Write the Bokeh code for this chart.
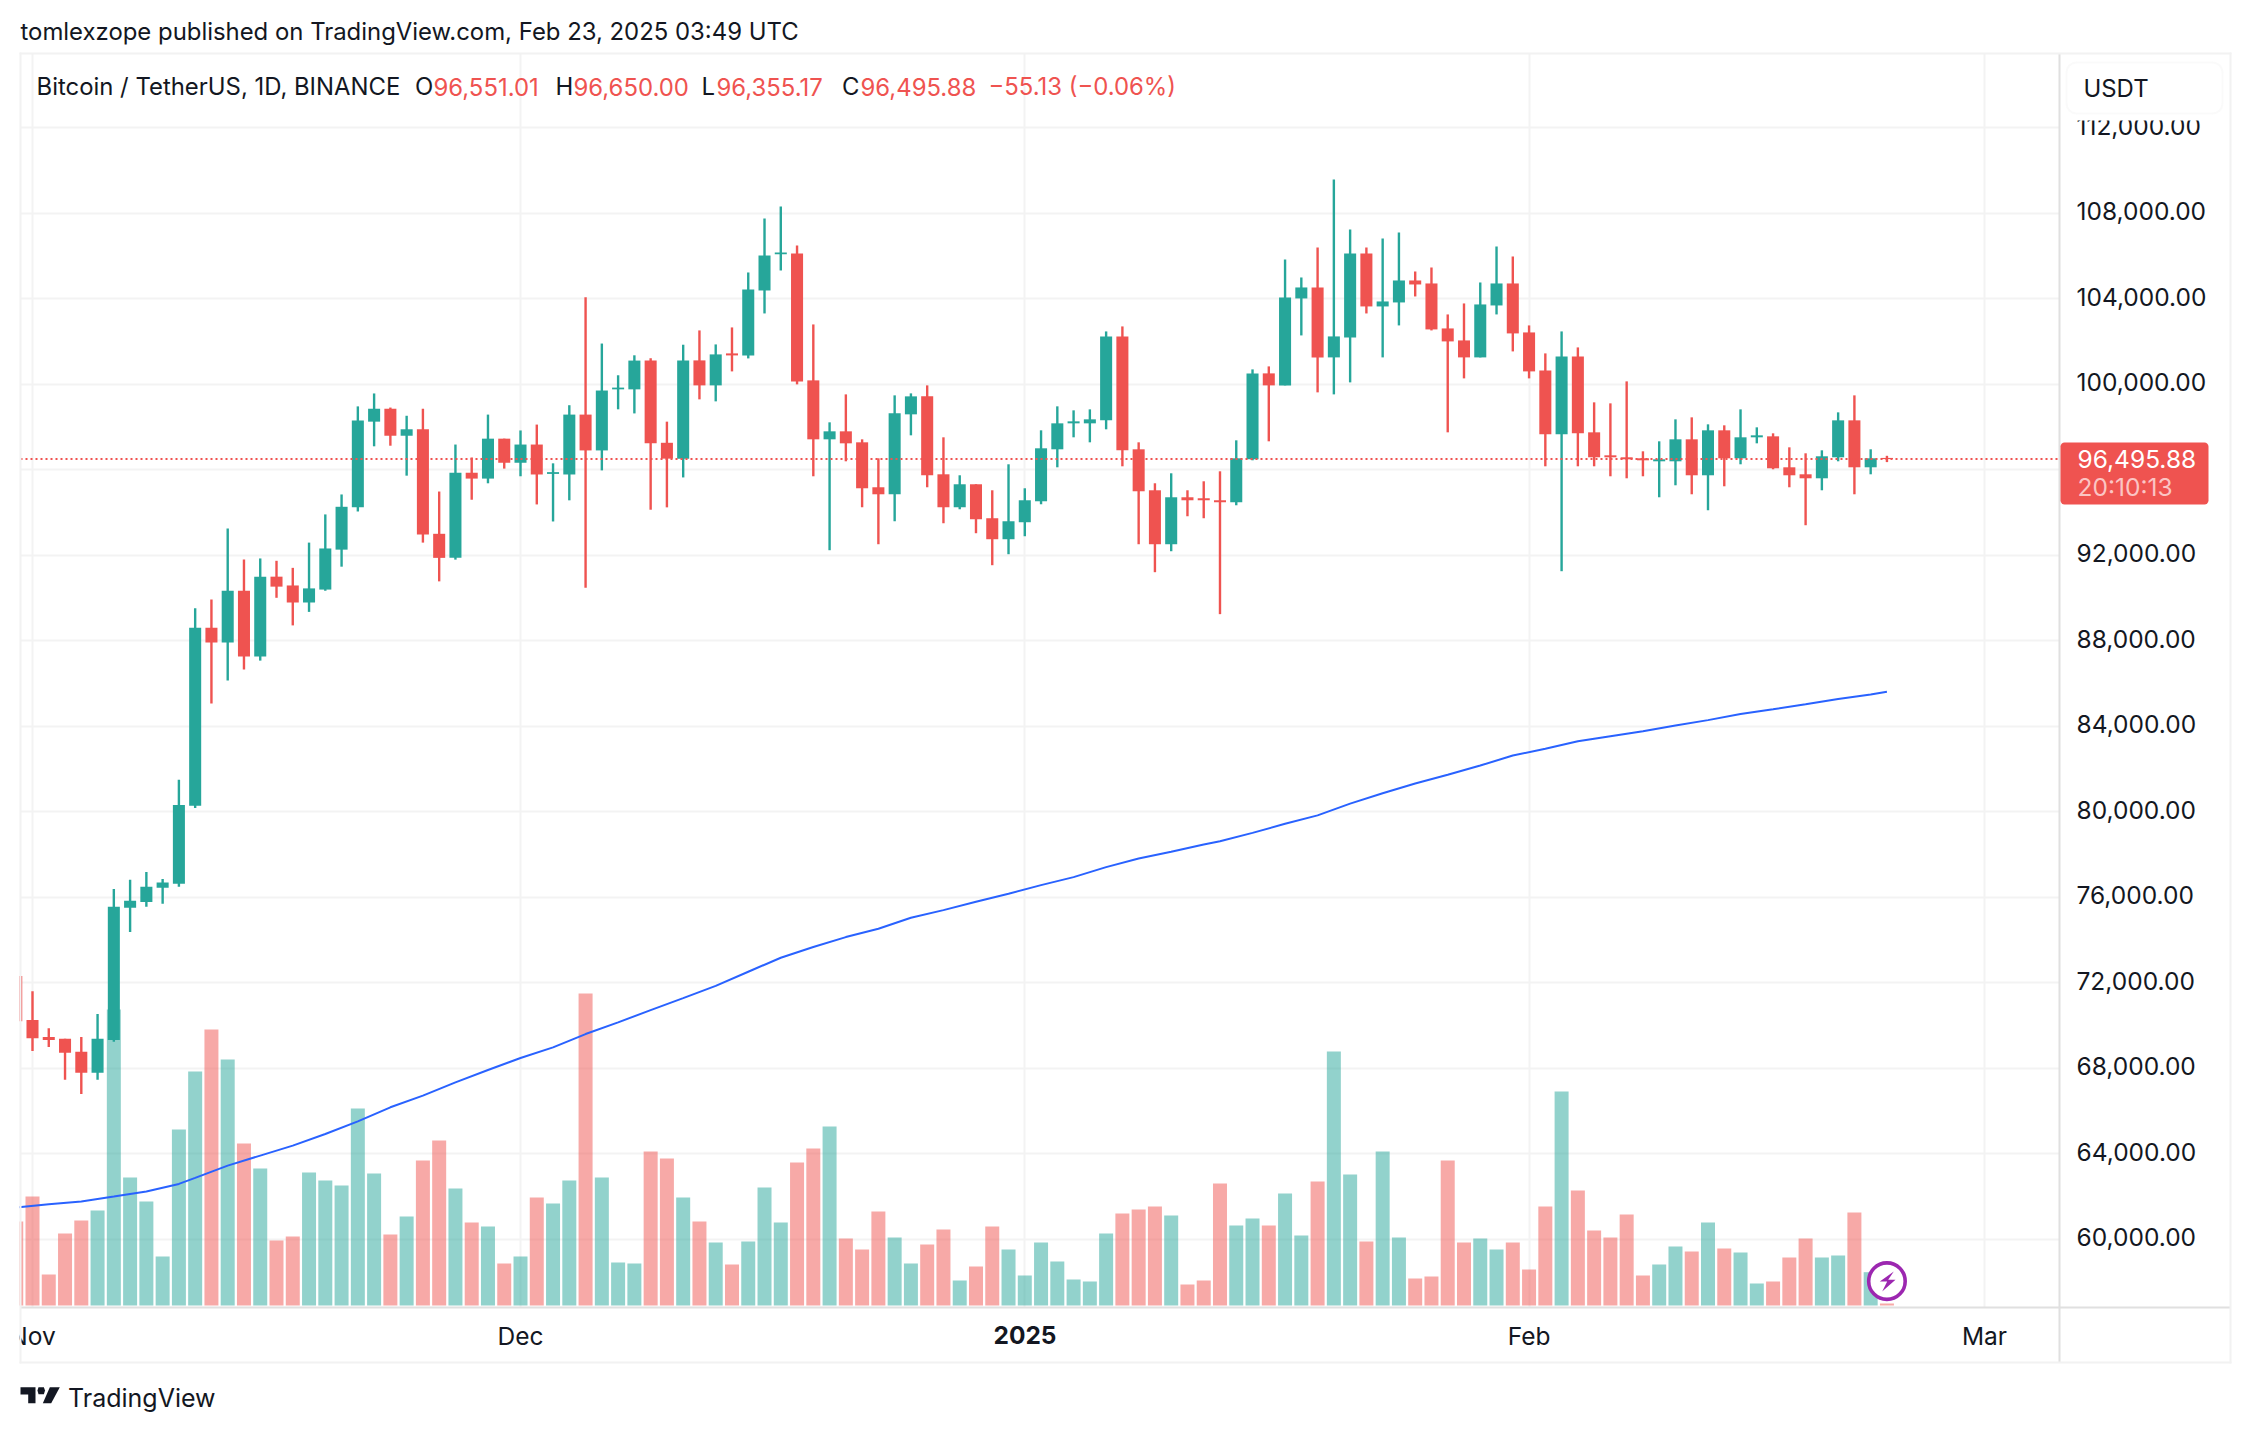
import math
from bokeh.plotting import figure
from bokeh.embed import file_html
from bokeh.resources import INLINE
from bokeh.models import (FixedTicker, NumeralTickFormatter, Range1d, Label, PolyAnnotation, ColumnDataSource)

# Days counted from 1 Nov 2024; index 0 of the candle lists is 31 Oct 2024
first_day = -1
opens = [72316,70256,69460,69377,68773,67784,69322,75503,75778,76437,76629,80283,88606,87919,90337,87260,90996,90584,89787,90392,92260,94238,98248,98852,97589,97891,93001,91875,95858,95584,97452,
 96325,97177,95803,95776,98578,96902,99759,99759,101105,97259,96518,101114,99945,101441,101347,104385,106084,106115,100179,97421,97795,97281,95178,94850,98590,99431,95785,94243,95318,93729,92747,
 93542,94523,96954,98169,98169,98309,102235,96954,95037,92513,94710,94664,94570,94477,96486,100506,99945,104012,104526,101254,102189,106115,103638,103825,104853,104713,102609,102048,101254,103684,104713,
 102422,100646,97655,101301,97748,96673,96580,96533,96393,96393,97421,95739,97842,96533,97515,97561,96112,95785,95598,96580,98309,96112,96551.01]
highs = [72700,71602,69872,69377,69460,70531,76382,76822,77179,76849,81491,89513,89925,93249,91793,91848,91738,91408,92589,93908,94842,98962,99567,98907,98523,98852,94979,97177,96572,98578,97452,
 97836,98111,96298,99017,104072,101902,100418,101352,101215,98248,101847,102516,101861,102656,105227,107751,108312,106489,102796,98216,99524,97421,96533,99478,99571,99945,97515,95739,95318,95037,96253,
 95131,97842,98964,98777,98823,102469,102703,97281,95365,95832,95037,95458,95925,97374,100693,100833,105834,104993,106395,109574,107237,106395,106816,107096,105273,105460,103264,103778,104759,106442,105975,
 102750,101441,102469,101721,99151,99104,100132,96860,97328,98356,98449,98122,98076,98823,97982,97702,97047,96767,96907,98683,99478,96954,96650.00]
lows = [69685,68800,68993,67454,66795,67454,69240,74377,75558,75695,76492,80173,85063,86134,86656,87068,90007,88716,89348,90337,91463,94045,97094,97122,95721,92589,90776,91793,94595,95364,96051,
 95693,94375,93578,94567,90474,95968,98825,98633,94128,94238,95638,99291,99197,100599,101207,103310,105320,99992,95692,92233,96393,94243,92513,93588,97608,95178,93495,94149,93028,91532,92046,
 92887,94383,96112,97515,97281,97889,96159,92513,91205,92186,93822,93729,89242,94336,96440,97328,99945,102282,99618,99524,100085,103310,101254,102750,104105,102516,97748,100272,101254,103264,101534,
 100272,96159,91251,96159,96159,95692,95598,95692,94710,95271,94850,94103,95224,96253,97234,96019,95178,93402,95037,96393,94850,95785,96355.17]
closes = [70201,69405,69322,68718,67784,69377,75558,75833,76492,76684,80310,88606,87919,90337,87260,90996,90529,89787,90447,92315,94265,98303,98852,97589,97891,92974,91875,95858,95584,97452,96325,
 97177,95776,95886,98578,96902,99704,99841,101105,97232,96518,101105,99945,101394,101347,104432,106021,106162,100132,97421,97795,97234,95131,94850,98636,99431,95739,94243,95318,93682,92747,93588,
 94570,97001,98169,98262,98356,102235,96907,94991,92513,94710,94570,94570,94477,96533,100506,99945,104058,104526,101254,102235,106115,103638,103871,104853,104666,102563,102002,101254,103731,104713,102376,
 100599,97655,101301,97702,96580,96580,96486,96440,96486,97421,95739,97842,96533,97515,97608,96066,95739,95598,96627,98309,96112,96533,96495.88]
volumes = [25.2,32.7,9.3,21.6,25.5,28.5,88.8,38.4,31.2,14.7,52.8,70.2,82.8,73.8,48.6,41.1,19.5,20.7,39.9,37.5,36.0,59.1,39.6,21.3,26.7,43.5,49.5,35.1,24.9,23.7,12.6,
 14.7,32.4,30.6,37.5,93.6,38.4,12.9,12.6,46.2,44.1,32.4,25.2,18.9,12.3,19.2,35.4,24.9,42.9,47.1,53.7,20.1,16.8,28.2,20.4,12.6,18.3,22.8,7.5,11.7,23.7,16.8,
 9.0,18.9,13.2,7.8,7.2,21.6,27.6,28.8,29.7,27.0,6.3,7.5,36.6,24.0,26.1,24.0,33.6,21.0,37.2,76.2,39.3,19.2,46.2,20.4,8.1,8.7,43.5,18.9,20.1,16.8,18.9,
 10.8,29.7,64.2,34.5,22.5,20.4,27.3,9.0,12.3,17.7,16.2,24.9,17.1,15.9,6.6,7.2,14.4,20.1,14.4,15.0,27.9,10.0,0.6]
ma_days = [-1,1,3,5,7,9,10,12,14,16,18,20,22,24,26,28,30,32,34,36,38,40,42,44,46,48,50,52,54,56,58,60,62,64,66,68,70,72,73,75,77,79,81,83,85,87,89,91,93,95,97,99,101,103,105,107,109,111,113,114]
ma_values = [61480,61636,61761,61994,62228,62586,62867,63443,63911,64378,64923,65515,66170,66715,67338,67915,68476,68974,69597,70143,70719,71280,71850,72514,73169,73667,74134,74524,75038,75396,75786,76160,76565,76939,77406,77811,78123,78466,78614,79008,79433,79827,80378,80866,81323,81732,82158,82630,82945,83292,83528,83764,84032,84284,84568,84788,85024,85276,85481,85607]
price_ticks = [60000,64000,68000,72000,76000,80000,84000,88000,92000,96000,100000,104000,108000,112000]
time_ticks = [0,30,61,92,120]
time_labels = ["Nov","Dec","2025","Feb","Mar"]
last_price = 96495.88
header_values = ["96,551.01","96,650.00","96,355.17","96,495.88"]

GREEN, RED, INK = "#26a69a", "#ef5350", "#131722"
GRID, BORDER, AXIS = "#f3f3f3", "#f2f2f2", "#e0e0e0"
FONT = "Inter"

days = list(range(first_day, first_day + len(opens)))
is_up = [c >= o for o, c in zip(opens, closes)]
cols = [GREEN if u else RED for u in is_up]
src = ColumnDataSource(dict(day=days, o=opens, h=highs, l=lows, c=closes, v=volumes, col=cols,
                            top=[max(a, b) for a, b in zip(opens, closes)],
                            bot=[min(a, b) for a, b in zip(opens, closes)],
                            zero=[0] * len(days)))

# The frame fills the whole canvas so that panel decorations outside the plot area can be drawn.
W, H = 2234, 1416
DAY_PX = 16.267           # pixels per day
PRICE_PX = 0.021375       # pixels per USD
X0, Y108 = 32.0, 212.7    # pixel of 1 Nov, pixel of 108,000
VOL_PX = 1 / 0.3          # pixels per volume unit
VOL0 = 1305.0             # pixel of zero volume
PANE_L, PANE_R, PANE_T, PANE_B = 20, 2059, 53, 1307
LABEL_LIFT = 2            # price labels sit this many pixels above their grid lines


def day_at(px):
    return (px - X0) / DAY_PX


def price_at(py):
    return 108000 - (py - Y108) / PRICE_PX


p = figure(width=W, height=H, output_backend="svg", toolbar_location=None,
           x_range=Range1d(day_at(0), day_at(W)), y_range=Range1d(price_at(H), price_at(0)),
           x_axis_location="below", y_axis_location="right",
           min_border_left=0, min_border_top=0, min_border_right=0, min_border_bottom=0,
           background_fill_color="white", border_fill_color="white")
p.extra_y_ranges = {"volume": Range1d((VOL0 - H) / VOL_PX, VOL0 / VOL_PX),
                    "labels": Range1d(price_at(H + LABEL_LIFT), price_at(LABEL_LIFT))}
p.outline_line_color = None

p.xgrid.ticker = FixedTicker(ticks=time_ticks)
p.ygrid.ticker = FixedTicker(ticks=price_ticks)
p.xgrid.cross_bounds = (price_at(PANE_B), price_at(PANE_T))
p.ygrid.cross_bounds = (day_at(PANE_L), day_at(PANE_R))
for g in (p.xgrid, p.ygrid):
    g.grid_line_color = GRID
    g.grid_line_width = 2

ya = p.yaxis[0]
ya.y_range_name = "labels"
ya.fixed_location = day_at(PANE_R)
ya.bounds = (price_at(1362 + LABEL_LIFT), price_at(PANE_T + LABEL_LIFT))
ya.ticker = FixedTicker(ticks=price_ticks)
ya.formatter = NumeralTickFormatter(format="0,0.00")
ya.major_tick_line_color = None
ya.minor_tick_line_color = None
ya.axis_line_color = AXIS
ya.axis_line_width = 2
ya.major_label_standoff = 11
ya.major_label_text_font = FONT
ya.major_label_text_font_size = "24.5px"
ya.major_label_text_color = INK

xa = p.xaxis[0]
xa.fixed_location = price_at(PANE_B)
xa.bounds = (day_at(PANE_L), day_at(2230))
xa.ticker = FixedTicker(ticks=time_ticks)
xa.major_label_overrides = {t: ("" if s == "2025" else s) for t, s in zip(time_ticks, time_labels)}
xa.major_tick_line_color = None
xa.minor_tick_line_color = None
xa.axis_line_color = AXIS
xa.axis_line_width = 2
xa.major_label_standoff = 7
xa.major_label_text_font = FONT
xa.major_label_text_font_size = "24.5px"
xa.major_label_text_color = INK

# Volume underneath
p.vbar(x="day", width=0.86, bottom="zero", top="v", source=src, y_range_name="volume",
       fill_color="col", fill_alpha=0.5, line_color=None)
# Moving average
p.line(ma_days, ma_values, line_color="#2962ff", line_width=2)
# Candles
p.segment(x0="day", x1="day", y0="l", y1="h", source=src, line_color="col", line_width=2.4)
p.vbar(x="day", width=0.74, bottom="bot", top="top", source=src, fill_color="col", line_color=None)

# Last-price line across the pane
p.segment(x0=[day_at(PANE_L)], x1=[day_at(PANE_R)], y0=[last_price], y1=[last_price],
          line_color=RED, line_width=2, line_dash="2 3")

# Alert icon on the last bar
p.scatter([days[-1]], [7.3], y_range_name="volume", marker="circle", size=36.5,
          fill_color="white", line_color="#9c27b0", line_width=3.6)


def T(x, y, text, color=INK, size="23.9px", style="normal", align="left", **kw):
    p.add_layout(Label(x=x, y=y, x_units="canvas", y_units="canvas", text=text, text_color=color,
                       text_font=FONT, text_font_size=size, text_font_style=style, text_align=align,
                       text_baseline="middle", **kw))


def POLY(pts, color, line=None):
    p.add_layout(PolyAnnotation(xs=[a for a, _ in pts], ys=[b for _, b in pts],
                                xs_units="canvas", ys_units="canvas",
                                fill_color=color, fill_alpha=1, line_color=line, line_width=2, level="overlay"))


def RECT(x0, y0, x1, y1, color):
    POLY([(x0, y0), (x1, y0), (x1, y1), (x0, y1)], color)


def ROUND(x0, y0, x1, y1, r, color, line=None):
    pts = []
    for cx, cy, start in ((x1 - r, y0 + r, -90), (x1 - r, y1 - r, 0), (x0 + r, y1 - r, 90), (x0 + r, y0 + r, 180)):
        for k in range(5):
            a = math.radians(start + k * 22.5)
            pts.append((cx + r * math.cos(a), cy + r * math.sin(a)))
    POLY(pts, color, line)


# bolt
POLY([(1893.3, 1271), (1879.3, 1281), (1886.7, 1281), (1881.7, 1291), (1895, 1279.3), (1887.7, 1279.3)], "#9c27b0")

# left of the pane: nothing shows
RECT(0, 54, 19, 1363, "white")

# outer frame
RECT(19, 52, 2231, 54, BORDER)
RECT(19, 1361, 2231, 1363, BORDER)
RECT(19, 52, 21, 1363, BORDER)
RECT(2229, 52, 2231, 1363, BORDER)

# texts
T(20, 31, "tomlexzope published on TradingView.com, Feb 23, 2025 03:49 UTC")
T(36, 86, "Bitcoin / TetherUS, 1D, BINANCE")
for lx, letter, vx, v in zip((414.5, 555, 701, 841.5), "OHLC", (433, 573, 716, 860), header_values):
    T(lx, 86, letter)
    T(vx, 86, v, RED)
T(988, 86, "\u221255.13 (\u22120.06%)", RED)
T(1024.5, 1334.5, time_labels[2], style="bold", align="center", size="24.5px")

# USDT box, which hides the top of the highest price label
RECT(2062, 113, 2228, 120, "white")
ROUND(2066, 62, 2222, 113, 10, "white", "#f0f0f0")
T(2083, 88, "USDT", level="overlay")

# last-price tag
ROUND(2060, 442, 2208, 504, 4, RED)
T(2077, 458, "96,495.88", "white", size="24.5px", level="overlay")
T(2077, 486, "20:10:13", "#fbc5c4", size="24.5px", level="overlay")

# TradingView wordmark
POLY([(20, 1386.7), (35, 1386.7), (35, 1402.7), (27.7, 1402.7), (27.7, 1394), (20, 1394)], INK)
POLY([(38, 1386.7), (43.4, 1386.7), (44.5, 1390), (43.4, 1393.7), (38, 1393.7), (37, 1390)], INK)
POLY([(49.3, 1386.7), (59.3, 1386.7), (50.7, 1402.7), (42.3, 1402.7)], INK)
T(67.5, 1397, "TradingView", size="25px")

open("out.html", "w").write(file_html(p, INLINE))
